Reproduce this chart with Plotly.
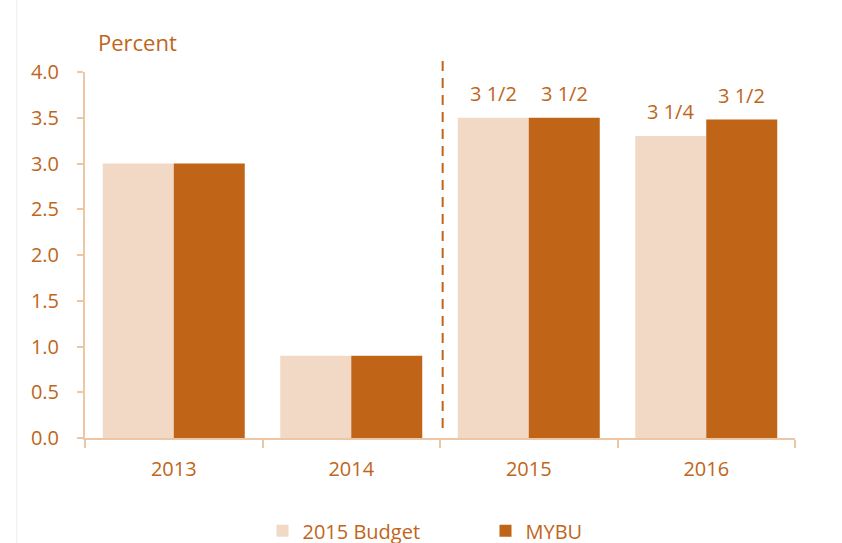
import plotly.graph_objects as go

categories = ["2013", "2014", "2015", "2016"]
budget_2015 = [3.0, 0.9, 3.5, 3.3]
mybu = [3.0, 0.9, 3.5, 3.48]
budget_labels = ["", "", "3 1/2", "3 1/4"]
mybu_labels = ["", "", "3 1/2", "3 1/2"]
y_ticks = [0.0, 0.5, 1.0, 1.5, 2.0, 2.5, 3.0, 3.5, 4.0]

LIGHT = "#F1D9C6"
DARK = "#C06418"
TXT = "#C0651A"
AXIS = "#EDC6A6"
FONT = "Open Sans"

fig = go.Figure()
fig.add_trace(go.Bar(x=categories, y=budget_2015, name="2015 Budget",
                     marker=dict(color=LIGHT, line=dict(width=0))))
fig.add_trace(go.Bar(x=categories, y=mybu, name="MYBU",
                     marker=dict(color=DARK, line=dict(width=0))))

# value labels above bars
for i, (c, v, t) in enumerate(zip(categories, budget_2015, budget_labels)):
    if t:
        fig.add_annotation(x=i - 0.2, y=v, text=t, showarrow=False, yanchor="bottom",
                           yshift=9, font=dict(size=20, color=TXT, family=FONT))
for i, (c, v, t) in enumerate(zip(categories, mybu, mybu_labels)):
    if t:
        fig.add_annotation(x=i + 0.2, y=v, text=t, showarrow=False, yanchor="bottom",
                           yshift=9, font=dict(size=20, color=TXT, family=FONT))

# dashed separator between 2014 and 2015
fig.add_shape(type="line", xref="x", yref="paper", x0=1.515, x1=1.515, y0=0.027, y1=1.047,
              line=dict(color=DARK, width=2, dash="10px,7px"))

# faint frame line at left
fig.add_shape(type="line", xref="paper", yref="paper", x0=-0.096, x1=-0.096, y0=-0.6, y1=1.2,
              line=dict(color="#EEEEEE", width=1))

fig.add_annotation(xref="paper", yref="paper", x=0.015, y=1.036, xanchor="left", yanchor="bottom",
                   text="Percent", showarrow=False, font=dict(size=22, color=TXT, family=FONT))

fig.update_layout(
    width=842, height=543,
    margin=dict(l=85, r=47, t=72, b=105, autoexpand=False),
    paper_bgcolor="white", plot_bgcolor="white",
    barmode="group", bargap=0.2, bargroupgap=0,
    font=dict(family=FONT, color=TXT, size=20),
    showlegend=True,
    legend=dict(orientation="h", x=0.25, xanchor="left", y=-0.2, yanchor="top",
                font=dict(size=20, color=TXT, family=FONT), entrywidth=178, itemwidth=30),
)
fig.update_xaxes(showline=True, linecolor=AXIS, linewidth=2, ticks="outside", tickson="boundaries",
                 ticklen=8, tickcolor=AXIS, tickwidth=2, showgrid=False, ticklabelstandoff=12,
                 tickfont=dict(size=20, color=TXT, family=FONT))
fig.update_yaxes(range=[0, 4.0], tickvals=y_ticks, ticktext=[f"{v:.1f}" for v in y_ticks],
                 showline=True, linecolor=AXIS, linewidth=2, ticks="outside", ticklen=6,
                 tickcolor=AXIS, tickwidth=2, showgrid=False, zeroline=False, ticklabelstandoff=14,
                 tickfont=dict(size=20, color=TXT, family=FONT))

fig.write_html("out.html")
